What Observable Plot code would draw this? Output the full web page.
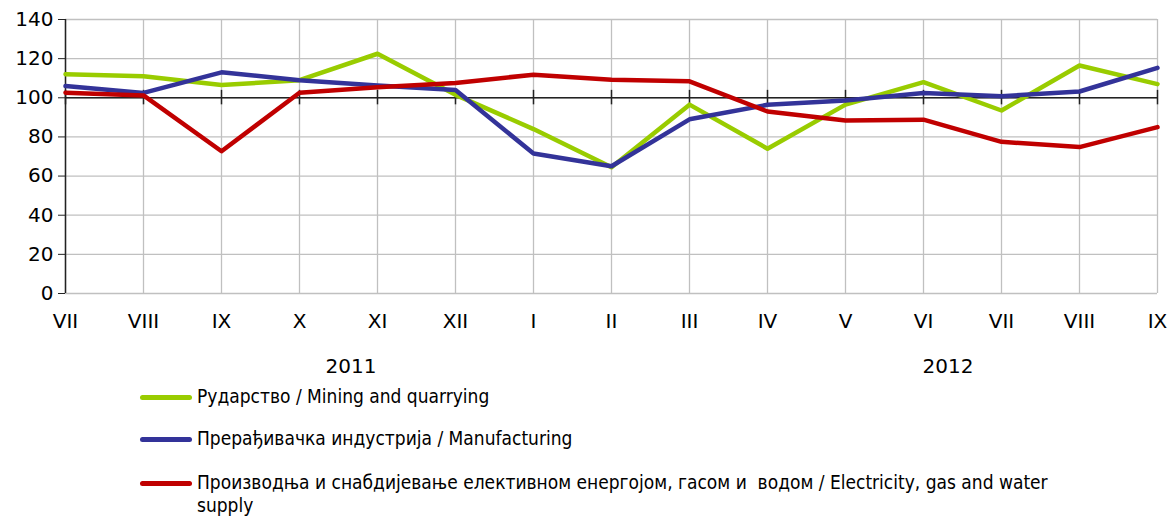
<!DOCTYPE html>
<html>
<head>
<meta charset="utf-8">
<script src="https://cdn.jsdelivr.net/npm/d3@7"></script>
<script src="https://cdn.jsdelivr.net/npm/@observablehq/plot@0.6"></script>
<style>
  html, body { margin: 0; padding: 0; background: #fff; }
  #wrap { position: relative; width: 1174px; height: 518px; overflow: hidden; font-family: "DejaVu Sans", sans-serif; color: #000; }
  #chart { position: absolute; left: 0; top: 0; }
  .year { position: absolute; font-size: 20px; transform: translate(-50%, -50%); white-space: nowrap; }
  .leg { position: absolute; left: 140px; font-family: "DejaVu Sans Condensed", "DejaVu Sans", sans-serif; font-stretch: condensed; font-size: 19px; line-height: 23px; }
  .leg .sw { position: absolute; left: 0; width: 52px; height: 5px; border-radius: 3px; }
  .leg .tx { position: absolute; left: 57px; white-space: nowrap; }
</style>
</head>
<body>
<div id="wrap">
  <div id="chart"></div>
</div>
<script>
const months = ["VII","VIII","IX","X","XI","XII","I","II","III","IV","V","VI","VII","VIII","IX"];
const mining = [112, 111, 106.5, 109, 122.5, 101.5, 84, 64.5, 96.5, 74, 96.5, 108, 93.5, 116.5, 107];
const manufacturing = [106, 102.5, 113, 109, 106.3, 104, 71.5, 65, 89, 96.4, 98.6, 102.4, 100.8, 103.2, 115.3];
const electricity = [102.6, 101.2, 72.7, 102.6, 105.4, 107.6, 111.8, 109.2, 108.4, 93, 88.4, 88.8, 77.5, 74.8, 85];
const seriesNames = [
  "Рударство / Mining and quarrying",
  "Прерађивачка индустрија / Manufacturing",
  "Производња и снабдијевање елективном енергојом, гасом и  водом / Electricity, gas and water supply"
];
const legendLines = [
  ["Рударство / Mining and quarrying"],
  ["Прерађивачка индустрија / Manufacturing"],
  ["Производња и снабдијевање елективном енергојом, гасом и\u00a0\u00a0водом / Electricity, gas and water", "supply"]
];
const seriesColors = ["#99cc00", "#333399", "#c00000"];
const yTicks = [0, 20, 40, 60, 80, 100, 120, 140];
const years = ["2011", "2012"];

const idx = months.map((_, i) => i);
const allValues = [mining, manufacturing, electricity];
const rows = [];
allValues.forEach((vals, s) => vals.forEach((v, i) => rows.push({i, v, s: seriesNames[s]})));

const W = 1174, H = 385, ML = 65, MR = 17, MT = 19, MB = H - 293;

const chart = Plot.plot({
  width: W, height: H,
  marginLeft: ML, marginRight: MR, marginTop: MT, marginBottom: MB,
  style: {fontFamily: "DejaVu Sans, sans-serif", color: "#000", background: "#fff", overflow: "visible"},
  x: {type: "linear", domain: [0, months.length - 1]},
  y: {domain: [0, 140]},
  color: {domain: seriesNames, range: seriesColors},
  marks: [
    Plot.gridX(idx, {stroke: "#c0c0c0", strokeOpacity: 1, strokeWidth: 1.3}),
    Plot.gridY(yTicks, {stroke: "#c0c0c0", strokeOpacity: 1, strokeWidth: 1.3}),
    Plot.ruleY([100], {stroke: "#222", strokeWidth: 1.5}),
    Plot.ruleX(idx, {x: d => d, y1: 96.4, y2: 103.8, stroke: "#222", strokeWidth: 1.5}),
    Plot.ruleX([0], {stroke: "#222", strokeWidth: 1.5}),
    Plot.axisY({ticks: yTicks, tickSize: 7, tickPadding: 5, fontSize: 20, stroke: "#222", label: null}),
    Plot.axisX({ticks: idx, tickFormat: i => months[i], tickSize: 0, tickPadding: 20, fontSize: 20, label: null}),
    Plot.line(rows, {x: "i", y: "v", z: "s", stroke: "s", strokeWidth: 4.5, strokeLinejoin: "round", strokeLinecap: "round"})
  ]
});
document.getElementById("chart").appendChild(chart);

const wrap = document.getElementById("wrap");
const yearX = [351, 948];
years.forEach((y, k) => {
  const d = document.createElement("div");
  d.className = "year";
  d.textContent = y;
  d.style.left = yearX[k] + "px";
  d.style.top = "366px";
  wrap.appendChild(d);
});
const legTops = [385, 427, 471];
legendLines.forEach((lines, k) => {
  const d = document.createElement("div");
  d.className = "leg";
  d.style.top = legTops[k] + "px";
  const sw = document.createElement("div");
  sw.className = "sw";
  sw.style.background = seriesColors[k];
  sw.style.top = "10px";
  d.appendChild(sw);
  const tx = document.createElement("div");
  tx.className = "tx";
  tx.innerHTML = lines.map(s => s.replace(/&/g, "&amp;")).join("<br>");
  d.appendChild(tx);
  wrap.appendChild(d);
});
</script>
</body>
</html>
